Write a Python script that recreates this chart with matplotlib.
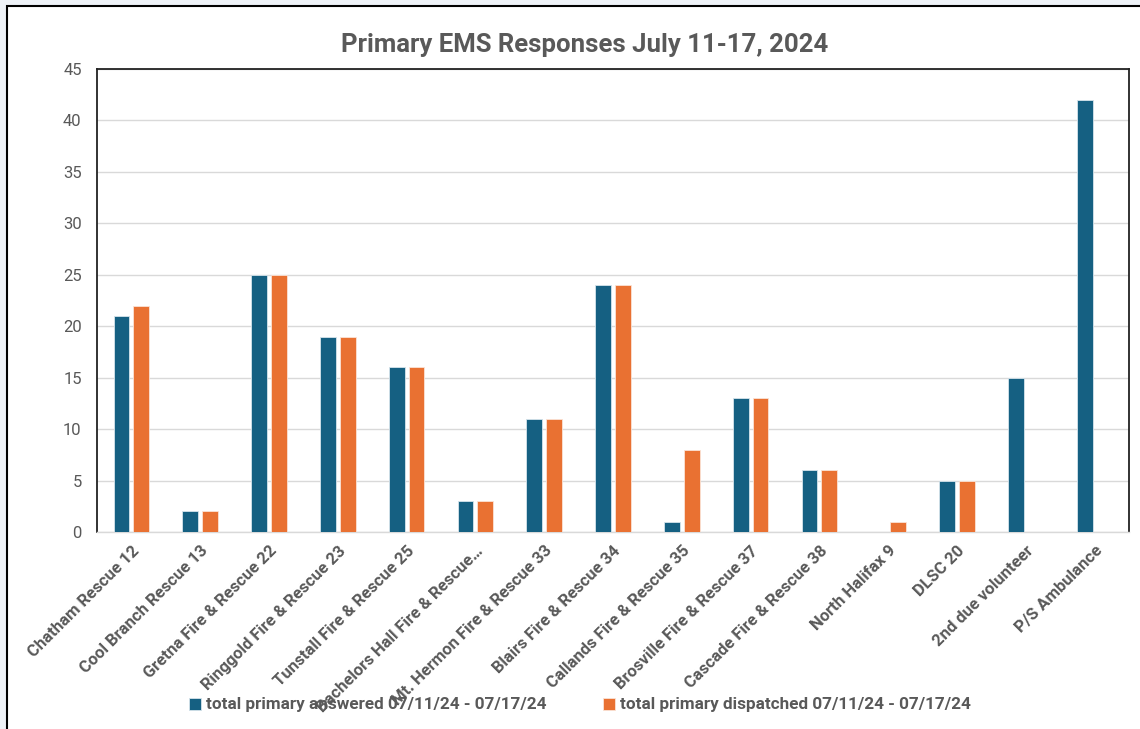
import numpy as np
import matplotlib.pyplot as plt
from matplotlib.patches import Rectangle

stations = ["Chatham Rescue 12", "Cool Branch Rescue 13", "Gretna Fire & Rescue 22",
            "Ringgold Fire & Rescue 23", "Tunstall Fire & Rescue 25",
            "Bachelors Hall Fire & Rescue\u2026", "Mt. Hermon Fire & Rescue 33",
            "Blairs Fire & Rescue 34", "Callands Fire & Rescue 35",
            "Brosville Fire & Rescue 37", "Cascade Fire & Rescue 38",
            "North Halifax 9", "DLSC 20", "2nd due volunteer", "P/S Ambulance"]
answered = [21, 2, 25, 19, 16, 3, 11, 24, 1, 13, 6, 0, 5, 15, 42]
dispatched = [22, 2, 25, 19, 16, 3, 11, 24, 8, 13, 6, 1, 5, 0, 0]

blue = "#156082"
orange = "#e97132"
grey = "#595959"

plt.rcParams['font.family'] = ['Roboto', 'DejaVu Sans']

fig = plt.figure(figsize=(11.4, 7.29), dpi=100, facecolor="#eef2f7")
# white chart panel with dark border, behind everything
fig.patches.append(Rectangle((7 / 1140, -0.01), 1.1, 1 - 6 / 729 + 0.01,
                             transform=fig.transFigure, facecolor="white",
                             edgecolor="black", linewidth=1.5, zorder=-10))

ax = fig.add_axes([97 / 1140, 1 - 532 / 729, (1129 - 97) / 1140, (532 - 69) / 729])
ax.set_zorder(1)
x = np.arange(len(stations))
w = 0.23
ax.bar(x - 0.145, answered, w, color=blue, edgecolor="#d6e4ec", linewidth=0.6,
       label="total primary answered 07/11/24 - 07/17/24", zorder=3)
ax.bar(x + 0.145, dispatched, w, color=orange, edgecolor="#fbe3d6", linewidth=0.6,
       label="total primary dispatched 07/11/24 - 07/17/24", zorder=3)

ax.set_xlim(-0.5, len(stations) - 0.5)
ax.set_ylim(0, 45)
ax.set_yticks(range(0, 46, 5))
ax.yaxis.grid(True, color="#d9d9d9", linewidth=1, zorder=0)
ax.set_axisbelow(True)
for s in ["top", "left", "right"]:
    ax.spines[s].set_color("#222222")
    ax.spines[s].set_linewidth(1.3)
ax.spines["bottom"].set_color("#d9d9d9")
ax.spines["bottom"].set_linewidth(1)
ax.tick_params(axis="both", length=0, colors=grey, labelsize=12)
ax.tick_params(axis="y", pad=11)
ax.set_xticks(x)
ax.set_xticklabels(stations, rotation=45, ha="right", rotation_mode="anchor",
                   fontsize=12, fontweight="bold", color=grey)
ax.tick_params(axis="x", pad=8)

fig.text(0.513, 1 - 45 / 729, "Primary EMS Responses July 11-17, 2024", ha="center",
         va="center", fontsize=18.5, fontweight="bold", color=grey)

# legend sits under the rotated labels, like the original
leg = fig.legend(loc="center", bbox_to_anchor=(0.509, 1 - 705 / 729), ncol=2,
                 frameon=False, fontsize=12.3, handlelength=0.7, handleheight=0.7,
                 handletextpad=0.3, columnspacing=3.3)
leg.set_zorder(0.5)
for t in leg.get_texts():
    t.set_color(grey)
    t.set_fontweight("bold")

fig.savefig("out.png", dpi=100, facecolor=fig.get_facecolor())
